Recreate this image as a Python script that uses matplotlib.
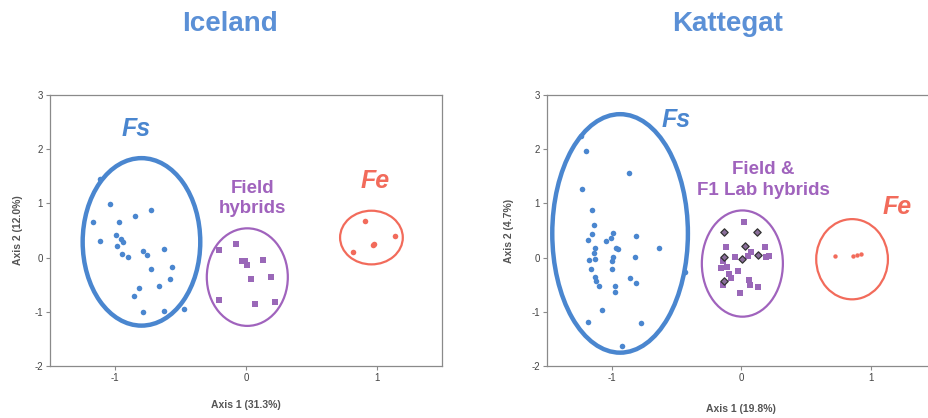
import numpy as np
import matplotlib.pyplot as plt
from matplotlib.patches import Ellipse

plt.rcParams['font.family'] = ['Liberation Sans', 'DejaVu Sans']
plt.rcParams['axes.unicode_minus'] = False

# --- Datos: Iceland ---
ice_fs_x = [-1.12, -1.04, -1.17, -0.97, -0.85, -0.73, -1.12, -0.995, -0.96, -0.94, -0.99, -0.95, -0.90,
            -0.79, -0.756, -0.63, -0.73, -0.567, -0.58, -0.667, -0.82, -0.854, -0.79, -0.63, -0.475]
ice_fs_y = [1.45, 0.99, 0.65, 0.66, 0.77, 0.87, 0.31, 0.42, 0.34, 0.28, 0.22, 0.06, 0.02,
            0.13, 0.04, 0.15, -0.21, -0.17, -0.40, -0.52, -0.57, -0.71, -1.01, -0.98, -0.95]
ice_hyb_x = [-0.21, -0.08, -0.03, -0.01, 0.01, 0.13, 0.04, 0.19, -0.21, 0.07, 0.22]
ice_hyb_y = [0.14, 0.26, -0.07, -0.06, -0.14, -0.05, -0.39, -0.36, -0.79, -0.85, -0.81]
ice_fe_x = [0.91, 0.82, 0.97, 0.98, 1.14]
ice_fe_y = [0.67, 0.10, 0.24, 0.25, 0.39]

# elipses: (centro x, centro y, ancho, alto)
ice_ell_fs = (-0.80, 0.29, 0.90, 3.09)
ice_ell_hyb = (0.01, -0.36, 0.62, 1.80)
ice_ell_fe = (0.96, 0.37, 0.48, 0.99)

# --- Datos: Kattegat ---
kat_fs_x = [-1.234, -1.195, -0.867, -1.226, -1.15, -1.139, -1.149, -1.183, -1.131, -1.139, -1.175, -1.131,
            -1.157, -1.131, -1.118, -1.098, -0.99, -1.002, -1.046, -0.964, -0.951, -0.99, -0.995, -0.998,
            -0.977, -0.977, -0.815, -0.817, -0.856, -0.81, -0.635, -0.437, -1.075, -1.183, -0.776, -0.92]
kat_fs_y = [2.25, 1.97, 1.56, 1.26, 0.88, 0.60, 0.44, 0.33, 0.17, 0.08, -0.04, -0.03,
            -0.21, -0.35, -0.43, -0.52, 0.45, 0.36, 0.30, 0.18, 0.15, 0.01, -0.06, -0.21,
            -0.52, -0.63, 0.39, 0.02, -0.38, -0.46, 0.17, -0.26, -0.97, -1.18, -1.21, -1.64]
kat_hyb_x = [0.025, -0.116, 0.187, 0.077, -0.044, 0.051, 0.19, 0.218, -0.142, -0.111, -0.154, -0.096,
             -0.026, -0.077, -0.142, 0.059, 0.069, 0.128, -0.013]
kat_hyb_y = [0.65, 0.20, 0.20, 0.11, 0.01, 0.03, 0.02, 0.03, -0.07, -0.17, -0.20, -0.30,
             -0.24, -0.38, -0.50, -0.41, -0.50, -0.55, -0.66]
kat_lab_x = [-0.134, 0.123, 0.033, -0.134, 0.008, 0.128, -0.129]
kat_lab_y = [0.47, 0.47, 0.22, 0.02, -0.02, 0.05, -0.44]
kat_fe_x = [0.72, 0.86, 0.89, 0.925]
kat_fe_y = [0.03, 0.03, 0.05, 0.07]

kat_ell_fs = (-0.934, 0.446, 1.046, 4.40)
kat_ell_hyb = (0.009, -0.11, 0.625, 1.96)
kat_ell_fe = (0.855, -0.03, 0.553, 1.48)

azul = '#4a86cf'
morado = '#a063bd'
rojo = '#f26b5b'
gris = '#555555'


def preparar_ejes(ax, xlabel, ylabel, ylab_x):
    ax.set_xlim(-1.5, 1.5)
    ax.set_ylim(-2, 3)
    ax.set_xticks([-1, 0, 1])
    ax.set_yticks([-2, -1, 0, 1, 2, 3])
    for s in ax.spines.values():
        s.set_color('#8a8a8a')
        s.set_linewidth(0.9)
    ax.tick_params(direction='out', length=3, width=0.8, color='#8a8a8a',
                   labelsize=7, labelcolor='#444444', pad=2)
    ax.set_xlabel(xlabel, fontsize=7.5, fontweight='bold', color=gris)
    ax.set_ylabel(ylabel, fontsize=7.5, fontweight='bold', color=gris)
    ax.xaxis.set_label_coords(0.5, -0.125)
    ax.yaxis.set_label_coords(ylab_x, 0.5)


def elipse(ax, params, color, lw):
    cx, cy, w, h = params
    ax.add_patch(Ellipse((cx, cy), w, h, fill=False, edgecolor=color, linewidth=lw, zorder=3))


fig = plt.figure(figsize=(9.29, 4.18), dpi=100)

# --- Iceland ---
ax1 = fig.add_axes([50 / 929, 52 / 418, 392 / 929, 271 / 418])
preparar_ejes(ax1, 'Axis 1 (31.3%)', 'Axis 2 (12.0%)', -0.07)
ax1.scatter(ice_fs_x, ice_fs_y, s=16, color=azul, zorder=4, linewidths=0)
ax1.scatter(ice_hyb_x, ice_hyb_y, s=14, marker='s', color='#9a68b8', zorder=4, linewidths=0)
ax1.scatter(ice_fe_x, ice_fe_y, s=16, color=rojo, zorder=4, linewidths=0)
elipse(ax1, ice_ell_fs, azul, 3.2)
elipse(ax1, ice_ell_hyb, morado, 1.6)
elipse(ax1, ice_ell_fe, rojo, 1.6)
ax1.text(-0.84, 2.37, 'Fs', color=azul, fontsize=18, fontweight='bold', style='italic',
         ha='center', va='center')
ax1.text(0.05, 1.09, 'Field\nhybrids', color=morado, fontsize=13.5, fontweight='bold',
         ha='center', va='center', linespacing=1.25)
ax1.text(0.99, 1.41, 'Fe', color=rojo, fontsize=18, fontweight='bold', style='italic',
         ha='center', va='center')
fig.text(230 / 929, 1 - 24 / 418, 'Iceland', color='#5b90d6', fontsize=20, fontweight='bold',
         ha='center', va='center')

# --- Kattegat ---
ax2 = fig.add_axes([546.7 / 929, 52 / 418, 389 / 929, 271 / 418])
preparar_ejes(ax2, 'Axis 1 (19.8%)', 'Axis 2 (4.7%)', -0.085)
ax2.xaxis.set_label_coords(0.5, -0.14)
ax2.scatter(kat_fs_x, kat_fs_y, s=16, color=azul, zorder=4, linewidths=0)
ax2.scatter(kat_hyb_x, kat_hyb_y, s=14, marker='s', color='#9a68b8', zorder=4, linewidths=0)
ax2.scatter(kat_lab_x, kat_lab_y, s=14, marker='D', color='#8a6e9a', edgecolors='#333333',
            linewidths=0.9, zorder=5)
ax2.scatter(kat_fe_x, kat_fe_y, s=10, color=rojo, zorder=4, linewidths=0)
elipse(ax2, kat_ell_fs, azul, 3.2)
elipse(ax2, kat_ell_hyb, morado, 1.6)
elipse(ax2, kat_ell_fe, rojo, 1.6)
ax2.text(-0.50, 2.54, 'Fs', color=azul, fontsize=18, fontweight='bold', style='italic',
         ha='center', va='center')
ax2.text(0.17, 1.43, 'Field &\nF1 Lab hybrids', color=morado, fontsize=13.5, fontweight='bold',
         ha='center', va='center', linespacing=1.25)
ax2.text(1.20, 0.94, 'Fe', color=rojo, fontsize=18, fontweight='bold', style='italic',
         ha='center', va='center')
fig.text(728 / 929, 1 - 24 / 418, 'Kattegat', color='#5b90d6', fontsize=20, fontweight='bold',
         ha='center', va='center')

plt.savefig('out.png', dpi=100)
